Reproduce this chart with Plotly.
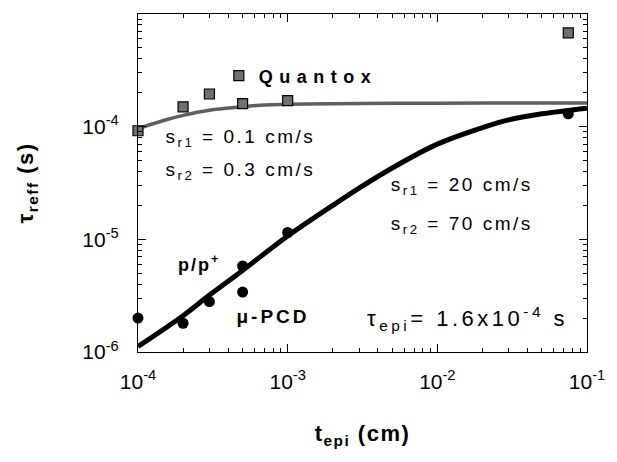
import plotly.graph_objects as go

# Data
quantox_x = [1e-4, 2e-4, 3e-4, 5e-4, 1e-3, 7.5e-2]
quantox_y = [9.2e-5, 1.5e-4, 1.95e-4, 1.6e-4, 1.7e-4, 6.8e-4]

pcd_x = [1e-4, 2e-4, 3e-4, 5e-4, 5e-4, 1e-3, 7.5e-2]
pcd_y = [2.0e-6, 1.8e-6, 2.8e-6, 3.4e-6, 5.8e-6, 1.15e-5, 1.3e-4]

fit_q_x = [1e-4, 1.5e-4, 2e-4, 3e-4, 5e-4, 7e-4, 1e-3, 2e-3, 5e-3, 1e-2, 3e-2, 1e-1]
fit_q_y = [9.6e-5, 1.14e-4, 1.26e-4, 1.4e-4, 1.5e-4, 1.56e-4, 1.58e-4, 1.6e-4, 1.61e-4, 1.61e-4, 1.62e-4, 1.62e-4]

fit_p_x = [1e-4, 2e-4, 3e-4, 5e-4, 1e-3, 2e-3, 3e-3, 5e-3, 1e-2, 2e-2, 3e-2, 5e-2, 1e-1]
fit_p_y = [1.12e-6, 2.1e-6, 3.2e-6, 5.3e-6, 1.07e-5, 2.0e-5, 2.85e-5, 4.3e-5, 7.0e-5, 9.8e-5, 1.15e-4, 1.3e-4, 1.46e-4]

x_ticks = [1e-4, 1e-3, 1e-2, 1e-1]
x_ticktext = ["10<sup>-4</sup>", "10<sup>-3</sup>", "10<sup>-2</sup>", "10<sup>-1</sup>"]
y_ticks = [1e-6, 1e-5, 1e-4, 1e-3]
y_ticktext = ["10<sup>-6</sup>", "10<sup>-5</sup>", "10<sup>-4</sup>", "10<sup>-3</sup>"]

x_minor = [m * 10.0 ** e for e in (-4, -3, -2) for m in range(2, 10)]
y_minor = [m * 10.0 ** e for e in (-6, -5, -4) for m in range(2, 10)]

FONT = "Liberation Sans, Arial, sans-serif"

fig = go.Figure()
fig.add_trace(go.Scatter(x=fit_q_x, y=fit_q_y, mode="lines", line=dict(color="#5e5e5e", width=3.5, shape="spline"),
                         showlegend=False, hoverinfo="skip"))
fig.add_trace(go.Scatter(x=fit_p_x, y=fit_p_y, mode="lines", line=dict(color="black", width=5, shape="spline"),
                         showlegend=False, hoverinfo="skip"))
fig.add_trace(go.Scatter(x=quantox_x, y=quantox_y, mode="markers", name="<b>Quantox</b>",
                         marker=dict(symbol="square", size=10, color="#707070", line=dict(color="black", width=1.2)),
                         showlegend=True, cliponaxis=False))
fig.add_trace(go.Scatter(x=pcd_x, y=pcd_y, mode="markers", name="μ-PCD",
                         marker=dict(symbol="circle", size=11, color="black"),
                         showlegend=False, cliponaxis=False))

axis_common = dict(type="log", showline=True, linecolor="black", linewidth=1.2, mirror="ticks",
                   ticks="inside", ticklen=8, tickwidth=1, tickcolor="black",
                   showgrid=False, zeroline=False,
                   tickfont=dict(family=FONT, size=21, color="black"))

fig.update_xaxes(**axis_common, range=[-4, -1], tickvals=x_ticks, ticktext=x_ticktext,
                 minor=dict(tickvals=x_minor, ticks="inside", ticklen=4, tickcolor="black", showgrid=False),
                 ticklabelstandoff=11,
                 title=dict(text="<b>t<sub>epi</sub> (cm)</b>", font=dict(family=FONT, size=22, color="black"), standoff=33))
fig.update_yaxes(**axis_common, range=[-6, -3], tickvals=y_ticks, ticktext=y_ticktext,
                 minor=dict(tickvals=y_minor, ticks="inside", ticklen=4, tickcolor="black", showgrid=False),
                 ticklabelstandoff=14,
                 title=dict(text="<b>τ<sub>reff</sub> (s)</b>", font=dict(family=FONT, size=22, color="black"), standoff=42))

ann_font = dict(family=FONT, size=19, color="black")
bold_font = dict(family=FONT, size=18, color="black")
anns = [
    dict(x=0.095, y=0.632, text="s<sub>r1</sub> = 0.1 cm/s", font=ann_font),
    dict(x=0.095, y=0.535, text="s<sub>r2</sub> = 0.3 cm/s", font=ann_font),
    dict(x=0.594, y=0.49, text="s<sub>r1</sub> = 20 cm/s", font=ann_font),
    dict(x=0.594, y=0.377, text="s<sub>r2</sub> = 70 cm/s", font=ann_font),
    dict(x=0.093, y=0.262, text="<b>p/p<sup>+</sup></b>", font=bold_font),
    dict(x=0.232, y=0.105, text="<b>μ-PCD</b>", font=dict(family=FONT, size=19, color="black")),
    dict(x=0.568, y=0.1, text="τ<sub>epi</sub>= 1.6x10<sup>-4</sup> s", font=dict(family=FONT, size=22, color="black")),
]
for a in anns:
    fig.add_annotation(xref="paper", yref="paper", xanchor="left", yanchor="middle", showarrow=False, **a)

fig.update_layout(
    width=617, height=462,
    margin=dict(l=138, r=25, t=14, b=110),
    paper_bgcolor="white", plot_bgcolor="white",
    font=dict(family=FONT, color="black"),
    legend=dict(x=0.18, y=0.817, xanchor="left", yanchor="middle", bgcolor="rgba(0,0,0,0)",
                font=dict(family=FONT, size=18, color="black"), itemwidth=30),
)

post = """
document.querySelectorAll('.legend .scrollbox, .legend').forEach(function(g){ g.removeAttribute('clip-path'); });
document.querySelectorAll('.annotation-text').forEach(function(t){ t.style.letterSpacing = '2.5px'; });
document.querySelectorAll('text').forEach(function(t){
  var s = t.textContent;
  if (s.indexOf('Quantox') >= 0) t.style.letterSpacing = '6.5px';
  if (s.indexOf('PCD') >= 0) t.style.letterSpacing = '3px';
  if (s.indexOf('p/p') >= 0) t.style.letterSpacing = '2px';
  if (s.indexOf('1.6x10') >= 0) t.style.letterSpacing = '3.5px';
  if (s.indexOf('(cm)') >= 0 || s.indexOf('(s)') >= 0) t.style.letterSpacing = '1.5px';
});
"""
fig.write_html("out.html", post_script=post)
